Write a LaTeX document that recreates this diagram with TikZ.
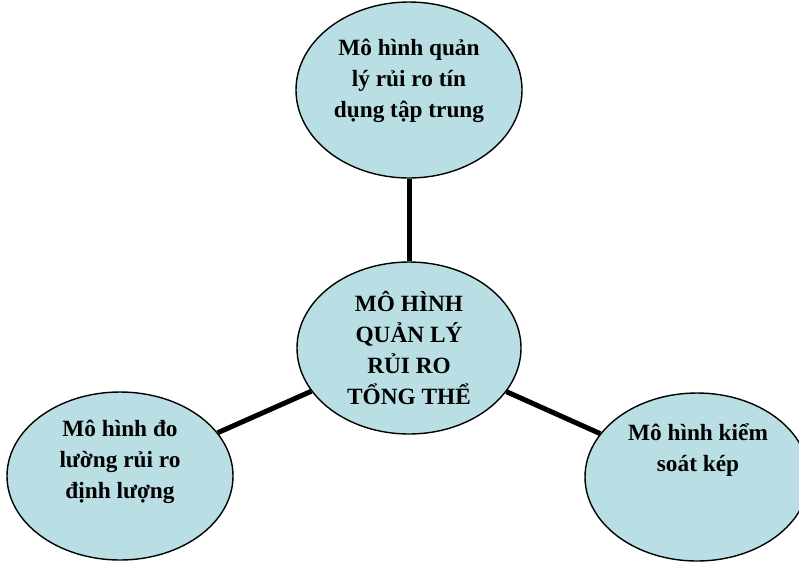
\documentclass[tikz,border=0pt]{standalone}
\usepackage{fontspec}
\setmainfont{Liberation Serif}
\usetikzlibrary{shapes.geometric}
\definecolor{bubble}{RGB}{185,223,228}
\begin{document}
\begin{tikzpicture}[x=1pt, y=-1pt,
  bub/.style={ellipse, draw=black, line width=1.4pt, fill=bubble, inner sep=0pt},
  txt/.style={align=center, font=\fontsize{23.3}{31}\selectfont\bfseries},
  link/.style={line width=5pt}]
\useasboundingbox (0,0) rectangle (799,563);
\node[bub, minimum width=226pt, minimum height=176pt] (tap) at (409,90) {};
\node[bub, minimum width=224pt, minimum height=172pt] (tong) at (409,348) {};
\node[bub, minimum width=226pt, minimum height=168pt] (dinh) at (120,476) {};
\node[bub, minimum width=224pt, minimum height=168pt] (kep) at (697,477) {};
\draw[link] (tap) -- (tong);
\draw[link] (tong) -- (dinh);
\draw[link] (tong) -- (kep);
\node[txt] (taptext) at (409,81) {Mô hình quản\\lý rủi ro tín\\dụng tập trung};
\node[txt] (tongtext) at (409,348) {MÔ HÌNH\\QUẢN LÝ\\RỦI RO\\TỔNG THỂ};
\node[txt] (dinhtext) at (120,462) {Mô hình đo\\lường rủi ro\\định lượng};
\node[txt] (keptext) at (698,450) {Mô hình kiểm\\soát kép};
\end{tikzpicture}
\end{document}
